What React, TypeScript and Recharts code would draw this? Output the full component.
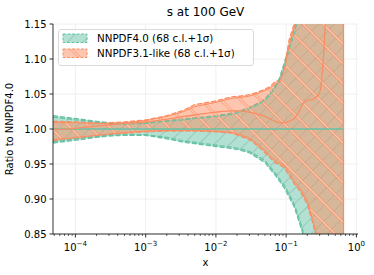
import React from 'react';
import { ComposedChart, Area, Line, XAxis, YAxis, CartesianGrid, ReferenceLine } from 'recharts';

// x grid (log)
const xs = [4.8e-5, 1e-4, 2e-4, 3e-4, 5e-4, 1e-3, 2e-3, 3.5e-3, 5e-3, 1e-2, 1.7e-2, 2.2e-2, 3e-2, 4e-2, 5e-2, 6e-2, 7e-2, 8e-2, 9.5e-2, 0.11, 0.13, 0.15, 0.17, 0.2, 0.24, 0.27, 0.3, 0.33, 0.36, 0.4, 0.5, 0.655];

// NNPDF4.0 (68 c.l. band, 1 sigma, central)
const nn40Lo = [0.980, 0.984, 0.988, 0.990, 0.991, 0.991, 0.986, 0.981, 0.979, 0.975, 0.972, 0.970, 0.966, 0.958, 0.952, 0.942, 0.934, 0.926, 0.915, 0.903, 0.889, 0.870, 0.853, 0.82, 0.78, 0.74, 0.70, 0.66, 0.62, 0.57, 0.48, 0.40];
const nn40Hi = [1.019, 1.015, 1.011, 1.009, 1.008, 1.009, 1.012, 1.015, 1.016, 1.019, 1.023, 1.026, 1.031, 1.037, 1.043, 1.053, 1.062, 1.072, 1.096, 1.118, 1.141, 1.165, 1.19, 1.23, 1.28, 1.32, 1.36, 1.40, 1.45, 1.50, 1.60, 1.70];
const nn40SigLo = [0.982, 0.986, 0.989, 0.991, 0.992, 0.992, 0.988, 0.983, 0.981, 0.977, 0.974, 0.972, 0.968, 0.961, 0.955, 0.945, 0.937, 0.929, 0.919, 0.907, 0.893, 0.875, 0.858, 0.826, 0.786, 0.75, 0.71, 0.67, 0.63, 0.58, 0.49, 0.41];
const nn40SigHi = [1.017, 1.013, 1.010, 1.008, 1.007, 1.008, 1.011, 1.013, 1.015, 1.018, 1.021, 1.024, 1.029, 1.035, 1.041, 1.050, 1.059, 1.069, 1.092, 1.113, 1.136, 1.16, 1.185, 1.22, 1.27, 1.31, 1.35, 1.39, 1.44, 1.49, 1.58, 1.68];
const nn40Mid = [1, 1, 1, 1, 1, 1, 1, 1, 1, 1, 1, 1, 1, 1, 1, 1, 1, 1, 1, 1, 1, 1, 1, 1, 1, 1, 1, 1, 1, 1, 1, 1];

// NNPDF3.1-like
const nn31Lo = [0.983, 0.986, 0.990, 0.992, 0.994, 0.996, 0.997, 0.997, 0.997, 0.996, 0.994, 0.990, 0.985, 0.975, 0.966, 0.958, 0.952, 0.949, 0.944, 0.934, 0.922, 0.914, 0.906, 0.892, 0.865, 0.845, 0.82, 0.80, 0.78, 0.75, 0.68, 0.60];
const nn31Hi = [1.011, 1.010, 1.009, 1.009, 1.010, 1.013, 1.019, 1.027, 1.035, 1.040, 1.046, 1.047, 1.049, 1.053, 1.057, 1.061, 1.068, 1.069, 1.089, 1.127, 1.15, 1.18, 1.21, 1.26, 1.32, 1.36, 1.40, 1.45, 1.50, 1.55, 1.65, 1.75];
const nn31SigLo = [0.985, 0.988, 0.991, 0.993, 0.995, 0.997, 0.998, 0.998, 0.998, 0.997, 0.995, 0.992, 0.987, 0.978, 0.969, 0.961, 0.955, 0.952, 0.947, 0.938, 0.926, 0.918, 0.91, 0.897, 0.87, 0.85, 0.826, 0.806, 0.786, 0.756, 0.686, 0.606];
const nn31SigHi = [1.009, 1.009, 1.008, 1.008, 1.009, 1.012, 1.018, 1.025, 1.032, 1.038, 1.044, 1.045, 1.047, 1.051, 1.055, 1.059, 1.064, 1.066, 1.085, 1.12, 1.145, 1.175, 1.205, 1.25, 1.31, 1.35, 1.39, 1.44, 1.49, 1.54, 1.64, 1.74];
const nn31Mid = [0.999, 1.001, 1.004, 1.006, 1.008, 1.010, 1.014, 1.018, 1.020, 1.024, 1.026, 1.026, 1.024, 1.021, 1.018, 1.014, 1.011, 1.009, 1.009, 1.011, 1.015, 1.024, 1.035, 1.041, 1.042, 1.046, 1.052, 1.085, 1.15, 1.3, 1.5, 1.7];

const majorX = [1e-4, 1e-3, 1e-2, 1e-1, 1];
const minorX = [5e-5, 6e-5, 7e-5, 8e-5, 9e-5, 2e-4, 3e-4, 4e-4, 5e-4, 6e-4, 7e-4, 8e-4, 9e-4, 2e-3, 3e-3, 4e-3, 5e-3, 6e-3, 7e-3, 8e-3, 9e-3, 2e-2, 3e-2, 4e-2, 5e-2, 6e-2, 7e-2, 8e-2, 9e-2, 0.2, 0.3, 0.4, 0.5, 0.6, 0.7, 0.8, 0.9];
const yTicks = [0.85, 0.9, 0.95, 1.0, 1.05, 1.1, 1.15];
const supers: Record<string, string> = { '-4': '\u22124', '-3': '\u22123', '-2': '\u22122', '-1': '\u22121', '0': '0' };

const GREEN = '#66c2a5';
const ORANGE = '#fc8d62';
const FONT = 'DejaVu Sans, sans-serif';

const data = xs.map((x, i) => ({
  x,
  nn40: [nn40Lo[i], nn40Hi[i]],
  nn31: [nn31Lo[i], nn31Hi[i]],
  nn40SigLo: nn40SigLo[i],
  nn40SigHi: nn40SigHi[i],
  nn31SigLo: nn31SigLo[i],
  nn31SigHi: nn31SigHi[i],
  nn40Mid: nn40Mid[i],
  nn31Mid: nn31Mid[i],
}));

const XTick = (props: any) => {
  const { x, y, payload } = props;
  const v = payload.value;
  const isMajor = majorX.some((m) => Math.abs(m - v) / m < 1e-6);
  const exp = String(Math.round(Math.log10(v)));
  return (
    <g>
      <line x1={x} x2={x} y1={y} y2={y + (isMajor ? 3.5 : 2)} stroke="#000" strokeWidth={isMajor ? 0.8 : 0.6} />
      {isMajor && (
        <text x={x} y={y + 17} textAnchor="middle" fontFamily={FONT} fontSize={10} fill="#000">
          10<tspan dy={-5} fontSize={7}>{supers[exp]}</tspan>
        </text>
      )}
    </g>
  );
};

const Patterns = ({ prefix }: { prefix: string }) => (
  <defs>
    <pattern id={prefix + 'g'} patternUnits="userSpaceOnUse" width={11} height={11} patternTransform="rotate(45)">
      <rect width={11} height={11} fill={GREEN} fillOpacity={0.5} />
      <line x1={0} y1={0} x2={0} y2={11} stroke="#5f9f88" strokeWidth={0.7} />
    </pattern>
    <pattern id={prefix + 'o'} patternUnits="userSpaceOnUse" width={14} height={14} patternTransform="rotate(-45)">
      <rect width={14} height={14} fill={ORANGE} fillOpacity={0.5} />
      <line x1={1.5} y1={0} x2={1.5} y2={14} stroke={ORANGE} strokeWidth={2.2} />
      <line x1={1.5} y1={0} x2={1.5} y2={14} stroke="#ffe9dd" strokeWidth={0.7} />
    </pattern>
  </defs>
);

export default function App() {
  return (
    <div style={{ position: 'absolute', left: 0, top: 0, width: 374, height: 275, background: '#fff' }}>
      <ComposedChart width={374} height={275} data={data} margin={{ top: 24, right: 16, bottom: 0, left: 0 }}>
        <Patterns prefix="hatch-" />
        <CartesianGrid stroke="#ececec" strokeWidth={0.8} verticalValues={majorX} horizontalValues={yTicks} />
        <XAxis
          dataKey="x"
          type="number"
          scale="log"
          domain={[4.8e-5, 1.054]}
          ticks={[...majorX, ...minorX]}
          interval={0}
          tick={<XTick />}
          tickLine={false}
          tickSize={0}
          tickMargin={0}
          height={41}
          stroke="#000"
          strokeWidth={0.8}
        />
        <YAxis
          type="number"
          domain={[0.85, 1.15]}
          allowDataOverflow
          ticks={yTicks}
          tickFormatter={(v: number) => v.toFixed(2)}
          width={53}
          tickSize={3.5}
          tickMargin={3}
          tick={{ fill: '#000', fontSize: 10, fontFamily: FONT }}
          tickLine={{ stroke: '#000', strokeWidth: 0.8 }}
          stroke="#000"
          strokeWidth={0.8}
        />
        <Area dataKey="nn40" type="linear" fill="url(#hatch-g)" fillOpacity={1} stroke={GREEN} strokeWidth={1.3} strokeDasharray="5 2" isAnimationActive={false} dot={false} activeDot={false} />
        <Area dataKey="nn31" type="linear" fill="url(#hatch-o)" fillOpacity={1} stroke={ORANGE} strokeWidth={1.3} strokeDasharray="5 2" isAnimationActive={false} dot={false} activeDot={false} />
        <Line dataKey="nn40SigHi" type="linear" stroke={GREEN} strokeWidth={1.2} strokeDasharray="5 2" dot={false} activeDot={false} isAnimationActive={false} />
        <Line dataKey="nn40SigLo" type="linear" stroke={GREEN} strokeWidth={1.2} strokeDasharray="5 2" dot={false} activeDot={false} isAnimationActive={false} />
        <Line dataKey="nn31SigHi" type="linear" stroke={ORANGE} strokeWidth={1} dot={false} activeDot={false} isAnimationActive={false} />
        <Line dataKey="nn31SigLo" type="linear" stroke={ORANGE} strokeWidth={1} dot={false} activeDot={false} isAnimationActive={false} />
        <Line dataKey="nn40Mid" type="linear" stroke={GREEN} strokeWidth={1.5} dot={false} activeDot={false} isAnimationActive={false} />
        <Line dataKey="nn31Mid" type="monotone" stroke={ORANGE} strokeWidth={1.3} dot={false} activeDot={false} isAnimationActive={false} />
        <ReferenceLine x={xs[xs.length - 1]} stroke={ORANGE} strokeWidth={1.3} />
      </ComposedChart>
      <svg width={374} height={275} style={{ position: 'absolute', left: 0, top: 0, pointerEvents: 'none' }}>
        <Patterns prefix="leg-" />
        <text x={205.5} y={16} textAnchor="middle" fontFamily={FONT} fontSize={12} fill="#000">s at 100 GeV</text>
        <text x={205.5} y={266} textAnchor="middle" fontFamily={FONT} fontSize={10} fill="#000">x</text>
        <text x={13} y={129} textAnchor="middle" fontFamily={FONT} fontSize={10} fill="#000" transform="rotate(-90 13 129)">Ratio to NNPDF4.0</text>
        <rect x={58.5} y={29.5} width={195} height={36} rx={2.5} fill="#fff" fillOpacity={0.8} stroke="#d0d0d0" strokeWidth={0.8} />
        <rect x={63} y={34} width={24} height={8.5} fill="url(#leg-g)" stroke={GREEN} strokeWidth={1} strokeDasharray="3 1.5" />
        <rect x={63} y={49} width={24} height={8.5} fill="url(#leg-o)" stroke={ORANGE} strokeWidth={1} strokeDasharray="3 1.5" />
        <text x={97} y={42} fontFamily={FONT} fontSize={10.3} fill="#000">NNPDF4.0 (68 c.l.+1σ)</text>
        <text x={97} y={57} fontFamily={FONT} fontSize={10.3} fill="#000">NNPDF3.1-like (68 c.l.+1σ)</text>
      </svg>
    </div>
  );
}
